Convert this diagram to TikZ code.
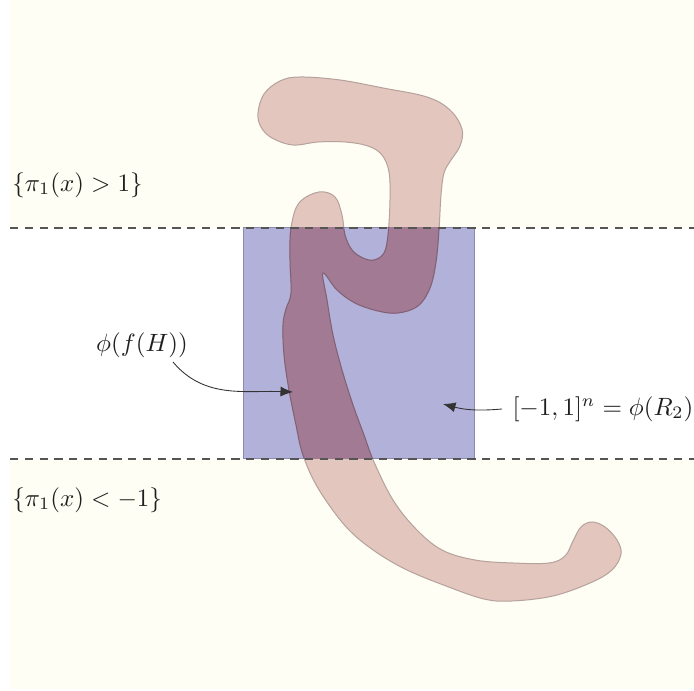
\documentclass[tikz,border=0pt]{standalone}
\usetikzlibrary{arrows.meta}
\definecolor{cream}{HTML}{FEFEF4}
\definecolor{pinkf}{HTML}{E3C6BD}
\definecolor{pinkd}{HTML}{B5A29C}
\definecolor{bluef}{HTML}{B1B1DA}
\definecolor{blued}{HTML}{8A8AAE}
\definecolor{overf}{HTML}{A27A94}
\definecolor{overd}{HTML}{806078}
\definecolor{dashc}{HTML}{555555}
\tikzset{
  dashline/.style={dashc, line width=1pt, dash pattern=on 3.3pt off 2.6pt},
  lbl/.style={inner sep=0pt, text=black!88},
  pointer/.style={black!80, line width=0.35pt, -{Latex[length=5pt,width=4pt]}},
}
\def\blob{(258,113) (264,94) (280,81) (300,77) (340,80) (383,88) (427,97) (450,110) (462,129) (460,146) (451,160) (444,173) (441,195) (439,230) (436,262) (430,288) (418,306) (398,313) (378,311) (355,303) (337,290) (323,273) (327,300) (333,335) (342,370) (353,405) (364,435) (374,462) (393,500) (416,529) (442,550) (475,560) (513,563) (549,563) (565,556) (573,541) (581,527) (592,522) (605,527) (617,540) (621,554) (612,570) (590,583) (553,596) (512,601) (484,599) (446,586) (407,570) (376,552) (350,531) (329,505) (313,479) (302,452) (296,425) (289,390) (284,355) (283,325) (286,309) (291,293) (290,260) (291,228) (299,203) (319,192) (335,197) (342,215) (345,235) (352,250) (363,258) (374,260) (384,253) (388,235) (390,200) (389,172) (382,155) (368,146) (345,142) (318,142) (293,145) (272,138) (261,127)}
\begin{document}
\begin{tikzpicture}[x={(0.4pt,0)}, y={(0,-0.4pt)}]
\useasboundingbox (0,0) rectangle (694,691);
\fill[white] (0,0) rectangle (694,691);
\fill[cream] (10,0) rectangle (694,689);
\fill[white] (10,228) rectangle (694,459);
% cube
\filldraw[fill=bluef, draw=blued, line width=0.4pt] (243,228) rectangle (474,459);
\node[inner sep=0pt] (cube) at (358.5,343.5) {};
% image of H
\filldraw[fill=pinkf, draw=pinkd, line width=0.4pt] plot[smooth cycle, tension=0.6] coordinates {\blob};
\begin{scope}
\clip (243,228) rectangle (474,459);
\filldraw[fill=overf, draw=overd, line width=0.4pt] plot[smooth cycle, tension=0.6] coordinates {\blob};
\end{scope}
% half spaces
\draw[dashline] (10,228) -- (694,228);
\draw[dashline] (10,459) -- (694,459);
\node[lbl, anchor=west] (up) at (12,185) {$\{\pi_1(x)>1\}$};
\node[lbl, anchor=west] (down) at (12,500) {$\{\pi_1(x)<-1\}$};
% labels with pointers
\node[lbl] (fh) at (142,345) {$\phi(f(H))$};
\coordinate (fhtip) at (293,392);
\draw[pointer] (173,362) to[out=-50, in=178] (fhtip);
\node[lbl, anchor=west] (rr) at (512,409) {$[-1,1]^n=\phi(R_2)$};
\coordinate (rrtip) at (443,404);
\draw[pointer] (rr.west) ++(-10,0) to[out=185, in=-15] (rrtip);
\end{tikzpicture}
\end{document}
